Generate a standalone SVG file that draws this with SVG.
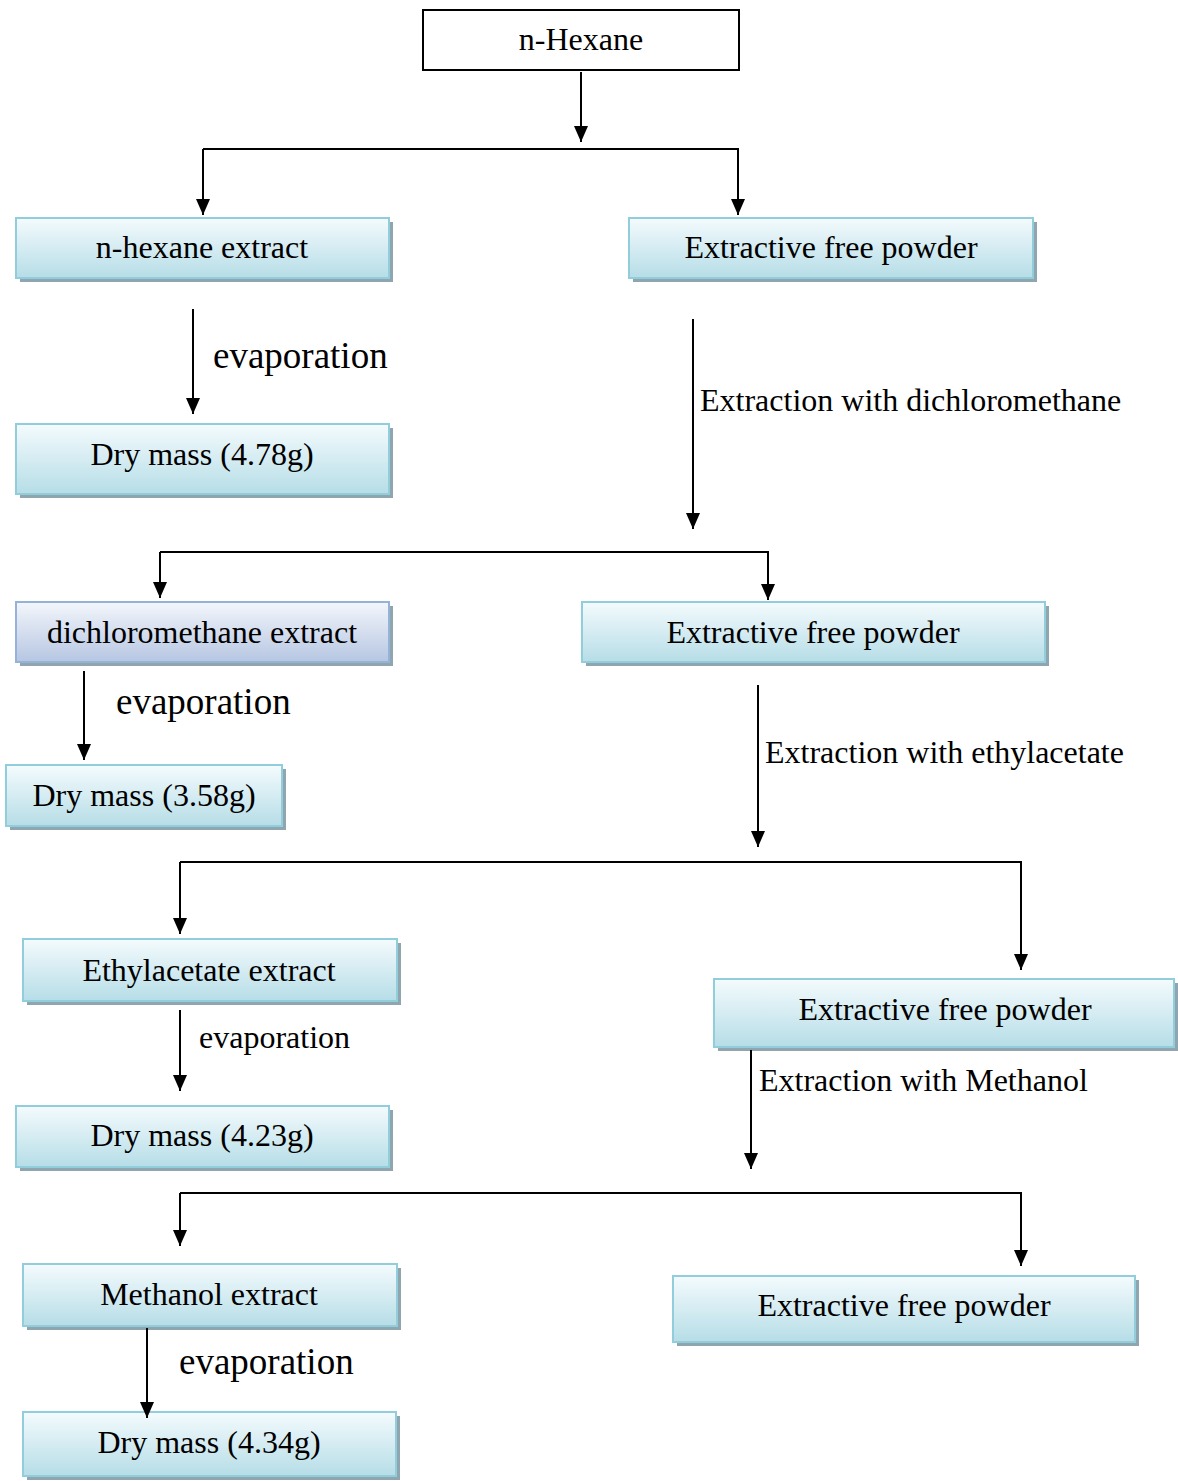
<svg xmlns="http://www.w3.org/2000/svg" width="1178" height="1481" viewBox="0 0 1178 1481">
<defs>
<linearGradient id="gBlue" x1="0" y1="0" x2="0" y2="1">
<stop offset="0" stop-color="#f4fbfd"/>
<stop offset="1" stop-color="#b6dde7"/>
</linearGradient>
<linearGradient id="gLav" x1="0" y1="0" x2="0" y2="1">
<stop offset="0" stop-color="#f3f6fb"/>
<stop offset="1" stop-color="#b6c6e2"/>
</linearGradient>
<marker id="arr" markerUnits="userSpaceOnUse" markerWidth="16" markerHeight="14" viewBox="0 0 16 14" refX="16" refY="7" orient="auto">
<path d="M0,0 L16,7 L0,14 Z" fill="#000"/>
</marker>
<style>
text{font-family:"Liberation Serif","Times New Roman",serif;fill:#000}
.t{font-size:32px;text-anchor:middle}
.lbl{font-size:32px}
.evl{font-size:37px}
.box{fill:url(#gBlue);stroke:#92cddc;stroke-width:2}
.boxl{fill:url(#gLav);stroke:#95b3d7;stroke-width:2}
.sh{fill:#8fa6b0}
.c{stroke:#000;stroke-width:2;fill:none}
.ca{stroke:#000;stroke-width:2;fill:none;marker-end:url(#arr)}
</style>
</defs>
<rect width="1178" height="1481" fill="#fff"/>

<g id="n-hexane">
<rect x="423" y="10" width="316" height="60" fill="#fff" stroke="#000" stroke-width="2"/>
<text class="t" x="581" y="50">n-Hexane</text>
</g>

<g id="n-hexane-extract">
<rect class="sh" x="20" y="222" width="373" height="60"/>
<rect class="box" x="16" y="218" width="373" height="60"/>
<text class="t" x="202" y="258">n-hexane extract</text>
</g>

<g id="efp1">
<rect class="sh" x="633" y="222" width="404" height="60"/>
<rect class="box" x="629" y="218" width="404" height="60"/>
<text class="t" x="831" y="258">Extractive free powder</text>
</g>

<g id="dry1">
<rect class="sh" x="20" y="428" width="373" height="70"/>
<rect class="box" x="16" y="424" width="373" height="70"/>
<text class="t" x="202" y="465">Dry mass (4.78g)</text>
</g>

<g id="dcm-extract">
<rect class="sh" x="20" y="606" width="373" height="60"/>
<rect class="boxl" x="16" y="602" width="373" height="60"/>
<text class="t" x="202" y="643">dichloromethane extract</text>
</g>

<g id="efp2">
<rect class="sh" x="586" y="606" width="463" height="60"/>
<rect class="box" x="582" y="602" width="463" height="60"/>
<text class="t" x="813" y="643">Extractive free powder</text>
</g>

<g id="dry2">
<rect class="sh" x="10" y="769" width="276" height="61"/>
<rect class="box" x="6" y="765" width="276" height="61"/>
<text class="t" x="144" y="806">Dry mass (3.58g)</text>
</g>

<g id="ethyl-extract">
<rect class="sh" x="27" y="943" width="374" height="62"/>
<rect class="box" x="23" y="939" width="374" height="62"/>
<text class="t" x="209" y="981">Ethylacetate extract</text>
</g>

<g id="efp3">
<rect class="sh" x="718" y="983" width="460" height="68"/>
<rect class="box" x="714" y="979" width="460" height="68"/>
<text class="t" x="945" y="1020">Extractive free powder</text>
</g>

<g id="dry3">
<rect class="sh" x="20" y="1110" width="373" height="61"/>
<rect class="box" x="16" y="1106" width="373" height="61"/>
<text class="t" x="202" y="1146">Dry mass (4.23g)</text>
</g>

<g id="methanol-extract">
<rect class="sh" x="27" y="1268" width="374" height="62"/>
<rect class="box" x="23" y="1264" width="374" height="62"/>
<text class="t" x="209" y="1305">Methanol extract</text>
</g>

<g id="efp4">
<rect class="sh" x="677" y="1280" width="462" height="66"/>
<rect class="box" x="673" y="1276" width="462" height="66"/>
<text class="t" x="904" y="1316">Extractive free powder</text>
</g>

<g id="dry4">
<rect class="sh" x="27" y="1416" width="373" height="64"/>
<rect class="box" x="23" y="1412" width="373" height="64"/>
<text class="t" x="209" y="1453">Dry mass (4.34g)</text>
</g>

<g id="connectors">
<line class="ca" x1="581" y1="72" x2="581" y2="142"/>
<line class="c" x1="203" y1="149" x2="739" y2="149"/>
<line class="ca" x1="203" y1="149" x2="203" y2="215"/>
<line class="ca" x1="738" y1="149" x2="738" y2="215"/>
<line class="ca" x1="193" y1="309" x2="193" y2="414"/>
<text class="evl" x="213" y="368">evaporation</text>
<line class="ca" x1="693" y1="319" x2="693" y2="529"/>
<text class="lbl" x="700" y="411">Extraction with dichloromethane</text>
<line class="c" x1="160" y1="552" x2="769" y2="552"/>
<line class="ca" x1="160" y1="552" x2="160" y2="598"/>
<line class="ca" x1="768" y1="552" x2="768" y2="600"/>
<line class="ca" x1="84" y1="671" x2="84" y2="760"/>
<text class="evl" x="116" y="714">evaporation</text>
<line class="ca" x1="758" y1="685" x2="758" y2="847"/>
<text class="lbl" x="765" y="763">Extraction with ethylacetate</text>
<line class="c" x1="180" y1="862" x2="1022" y2="862"/>
<line class="ca" x1="180" y1="862" x2="180" y2="934"/>
<line class="ca" x1="1021" y1="862" x2="1021" y2="970"/>
<line class="ca" x1="180" y1="1010" x2="180" y2="1091"/>
<text class="lbl" x="199" y="1048">evaporation</text>
<line class="ca" x1="751" y1="1050" x2="751" y2="1169"/>
<text class="lbl" x="759" y="1091">Extraction with Methanol</text>
<line class="c" x1="180" y1="1193" x2="1022" y2="1193"/>
<line class="ca" x1="180" y1="1193" x2="180" y2="1246"/>
<line class="ca" x1="1021" y1="1193" x2="1021" y2="1266"/>
<line class="ca" x1="147" y1="1328" x2="147" y2="1418"/>
<text class="evl" x="179" y="1374">evaporation</text>
</g>
</svg>
